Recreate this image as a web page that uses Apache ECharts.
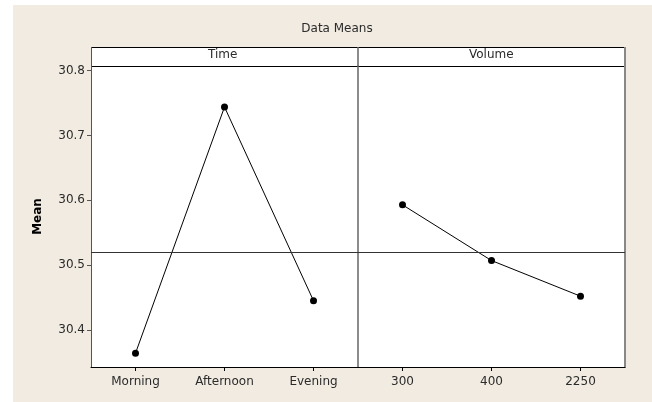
<!DOCTYPE html>
<html>
<head>
<meta charset="utf-8">
<script src="https://cdn.jsdelivr.net/npm/echarts@6/dist/echarts.min.js"></script>
<style>
html,body{margin:0;padding:0;background:#ffffff;}
#c{width:652px;height:402px;}
</style>
</head>
<body>
<div id="c"></div>
<script>
var timeCategories = ['Morning', 'Afternoon', 'Evening'];
var timeMeans = [30.364, 30.744, 30.445];
var volumeCategories = ['300', '400', '2250'];
var volumeMeans = [30.593, 30.507, 30.452];
var yTicks = [30.4, 30.5, 30.6, 30.7, 30.8];
var yRange = [30.3427, 30.8073];

var grandMean = timeMeans.reduce(function (a, b) { return a + b; }, 0) / timeMeans.length;

var FONT = 'DejaVu Sans';
var TXT = '#2b2b2b';

var chart = echarts.init(document.getElementById('c'), null, { renderer: 'canvas' });

function xAxisFor(idx, cats) {
  return {
    type: 'category', gridIndex: idx, data: cats, boundaryGap: true,
    axisLine: { show: true, lineStyle: { color: '#000', width: 1 } },
    axisTick: { show: true, alignWithLabel: true, length: 4, lineStyle: { color: '#000' } },
    axisLabel: { fontFamily: FONT, fontSize: 12, color: TXT, margin: 9 },
    splitLine: { show: false }
  };
}

function seriesFor(idx, vals) {
  return {
    type: 'line', xAxisIndex: idx, yAxisIndex: idx, data: vals,
    symbol: 'circle', symbolSize: 7, silent: true,
    itemStyle: { color: '#000' },
    lineStyle: { color: '#000', width: 1 },
    animation: false,
    markLine: {
      silent: true, symbol: 'none', animation: false,
      label: { show: false },
      lineStyle: { color: '#333', width: 1, type: 'solid' },
      data: [{ yAxis: grandMean }]
    }
  };
}

var option = {
  animation: false,
  backgroundColor: '#ffffff',
  title: {
    text: 'Data Means', left: 332, top: 18, textAlign: 'center',
    textStyle: { fontFamily: FONT, fontSize: 12, fontWeight: 'normal', color: TXT }
  },
  graphic: [
    { type: 'rect', z: -10, shape: { x: 13, y: 5, width: 639, height: 397 }, style: { fill: '#f1ebe1' } },
    { type: 'rect', z: -5, shape: { x: 91, y: 47, width: 534, height: 320 }, style: { fill: '#ffffff' } },
    { type: 'line', z: 10, shape: { x1: 91, y1: 47.5, x2: 625, y2: 47.5 }, style: { stroke: '#000', lineWidth: 1 } },
    { type: 'line', z: 10, shape: { x1: 91, y1: 66.5, x2: 625, y2: 66.5 }, style: { stroke: '#000', lineWidth: 1 } },
    { type: 'line', z: 10, shape: { x1: 91.5, y1: 47, x2: 91.5, y2: 67 }, style: { stroke: '#555', lineWidth: 1 } },
    { type: 'line', z: 10, shape: { x1: 358, y1: 47, x2: 358, y2: 67 }, style: { stroke: '#666', lineWidth: 1.5 } },
    { type: 'line', z: 10, shape: { x1: 625, y1: 47, x2: 625, y2: 67 }, style: { stroke: '#888', lineWidth: 2 } },
    { type: 'text', z: 10, left: 208, top: 49, style: { text: 'Time', font: '12px "DejaVu Sans"', fill: TXT } },
    { type: 'text', z: 10, left: 469, top: 49, style: { text: 'Volume', font: '12px "DejaVu Sans"', fill: TXT } }
  ],
  grid: [
    { left: 91, top: 66, width: 267, height: 301, containLabel: false },
    { left: 358, top: 66, width: 267, height: 301, containLabel: false }
  ],
  xAxis: [xAxisFor(0, timeCategories), xAxisFor(1, volumeCategories)],
  yAxis: [
    {
      type: 'value', gridIndex: 0, min: yRange[0], max: yRange[1],
      name: 'Mean', nameLocation: 'middle', nameGap: 47, nameRotate: 90,
      nameTextStyle: { fontFamily: FONT, fontSize: 12, fontWeight: 'bold', color: '#000' },
      axisLine: { show: true, lineStyle: { color: '#555', width: 1 } },
      axisTick: { show: true, length: 4, customValues: yTicks, lineStyle: { color: '#555' } },
      axisLabel: { fontFamily: FONT, fontSize: 12, color: TXT, margin: 6, customValues: yTicks,
        formatter: function (v) { return v.toFixed(1); } },
      splitLine: { show: false }
    },
    {
      type: 'value', gridIndex: 1, min: yRange[0], max: yRange[1],
      axisLine: { show: true, lineStyle: { color: '#666', width: 1.5 } },
      axisTick: { show: false }, axisLabel: { show: false }, splitLine: { show: false }
    },
    {
      type: 'value', gridIndex: 1, min: yRange[0], max: yRange[1], position: 'right',
      axisLine: { show: true, lineStyle: { color: '#888', width: 2 } },
      axisTick: { show: false }, axisLabel: { show: false }, splitLine: { show: false }
    }
  ],
  series: [seriesFor(0, timeMeans), seriesFor(1, volumeMeans)]
};

chart.setOption(option);
</script>
</body>
</html>
